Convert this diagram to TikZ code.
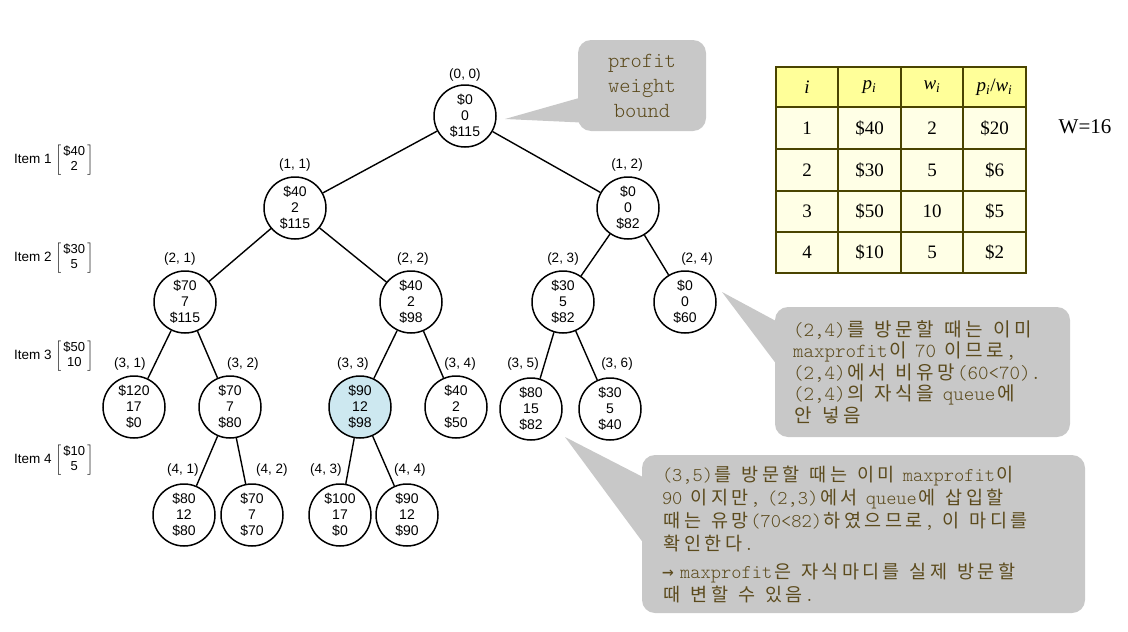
\documentclass[tikz,border=0pt]{standalone}
\usepackage{fontspec}
\usepackage{xcolor}
\setmainfont{Liberation Serif}
\setsansfont{Liberation Sans}
\setmonofont{Latin Modern Mono Light}
\newfontfamily\krfont[Scale=0.95]{Noto Sans CJK KR}
\newfontfamily\arrowfont{DejaVu Sans Mono}
% each Hangul syllable takes two mono cells
\makeatletter
\def\K#1{\K@loop#1\relax}
\def\K@loop#1{\ifx\relax#1\else\makebox[1.05em]{\krfont #1}\expandafter\K@loop\fi}
\makeatother
\usetikzlibrary{positioning, calc}
\definecolor{calloutgray}{HTML}{C8C8C8}
\definecolor{calloutink}{HTML}{5B4A1C}
\definecolor{tableline}{HTML}{4A4400}
\definecolor{tabhead}{HTML}{FFFF99}
\definecolor{tabbody}{HTML}{FFFFE6}
\definecolor{visitblue}{HTML}{CDE8F0}
\tikzset{
  state/.style={
    circle, draw=black, fill=white, line width=1.5pt,
    minimum size=62pt, inner sep=0pt,
    align=center, font=\sffamily\fontsize{14}{16}\selectfont
  },
  visited/.style={state, fill=visitblue},
  idx/.style={font=\sffamily\fontsize{13.5}{16}\selectfont, inner sep=1pt},
  edge/.style={line width=1.4pt, draw=black},
  item/.style={anchor=west, inner sep=0pt, font=\sffamily\fontsize{13.5}{16}\selectfont},
  callout/.style={
    rectangle, rounded corners=13pt, fill=calloutgray, text=calloutink,
    align=left, font=\ttfamily\fontsize{20}{21.5}\selectfont
  },
  pointer/.style={fill=calloutgray},
  cell/.style={font=\fontsize{19}{22}\selectfont, text=black, inner sep=0pt},
  tabline/.style={line width=2.6pt, draw=tableline, line cap=rect},
}

\begin{document}
\begin{tikzpicture}[x=1pt, y=-1pt]
  \useasboundingbox (0,0) rectangle (1128,632);

  % search tree
  \node[state]   (n00) at (465,116) {\$0\\0\\\$115};
  \node[state]   (n11) at (295,208) {\$40\\2\\\$115};
  \node[state]   (n12) at (628,208) {\$0\\0\\\$82};
  \node[state]   (n21) at (185,302) {\$70\\7\\\$115};
  \node[state]   (n22) at (411,302) {\$40\\2\\\$98};
  \node[state]   (n23) at (563,302) {\$30\\5\\\$82};
  \node[state]   (n24) at (685,302) {\$0\\0\\\$60};
  \node[state]   (n31) at (134,407) {\$120\\17\\\$0};
  \node[state]   (n32) at (230,407) {\$70\\7\\\$80};
  \node[visited] (n33) at (360,407) {\$90\\12\\\$98};
  \node[state]   (n34) at (456,407) {\$40\\2\\\$50};
  \node[state]   (n35) at (531,409) {\$80\\15\\\$82};
  \node[state]   (n36) at (610,409) {\$30\\5\\\$40};
  \node[state]   (n41) at (184,515) {\$80\\12\\\$80};
  \node[state]   (n42) at (252,515) {\$70\\7\\\$70};
  \node[state]   (n43) at (340,515) {\$100\\17\\\$0};
  \node[state]   (n44) at (407,515) {\$90\\12\\\$90};

  \foreach \from/\to in {n00/n11, n00/n12, n11/n21, n11/n22, n12/n23, n12/n24,
                         n21/n31, n21/n32, n22/n33, n22/n34, n23/n35, n23/n36,
                         n32/n41, n32/n42, n33/n43, n33/n44}
    \draw[edge] (\from) -- (\to);

  \foreach \i/\j/\x/\y in {0/0/465/75, 1/1/295/165, 1/2/627/165,
                           2/1/180/259, 2/2/413/259, 2/3/563/259, 2/4/697/259,
                           3/1/130/364, 3/2/243/364, 3/3/353/364, 3/4/460/364,
                           3/5/523/364, 3/6/617/364,
                           4/1/183/470, 4/2/272/470, 4/3/326/470, 4/4/410/470}
    \node[idx] (l\i\j) at (\x,\y) {(\i, \j)};

  % item column
  \foreach \k/\p/\w/\y in {1/40/2/160, 2/30/5/258, 3/50/10/356, 4/10/5/460}
    \node[item] (item\k) at (14,\y)
      {Item \k\ $\left[\mbox{\fontsize{13}{15}\selectfont\begin{tabular}{@{\,}c@{\,}}\$\p\\\w\end{tabular}}\right]$};

  % table
  \fill[tabbody] (776,107) rectangle (1026,273);
  \fill[tabhead] (776,67) rectangle (1026,107);
  \foreach \x in {776,838,901,963,1026}
    \draw[tabline] (\x,67) -- (\x,273);
  \foreach \y in {67,107,149,191,232,273}
    \draw[tabline] (776,\y) -- (1026,\y);
  \node[cell] (h1) at (807,87) {\textit{i}};
  \node[cell] (h2) at (869.5,87) {\textit{p}\textsubscript{\textit{i}}};
  \node[cell] (h3) at (932,87) {\textit{w}\textsubscript{\textit{i}}};
  \node[cell] (h4) at (994.5,87)
    {\textit{p}\textsubscript{\textit{i}}/\textit{w}\textsubscript{\textit{i}}};
  \foreach \r/\p/\w/\q/\y in {1/40/2/20/128, 2/30/5/6/170, 3/50/10/5/211.5, 4/10/5/2/252.5} {
    \node[cell] (r\r c1) at (807,\y) {\r};
    \node[cell] (r\r c2) at (869.5,\y) {\$\p};
    \node[cell] (r\r c3) at (932,\y) {\w};
    \node[cell] (r\r c4) at (994.5,\y) {\$\q};
  }
  \node[font=\fontsize{21}{24}\selectfont] (cap) at (1085,127) {W=16};

  % callouts
  \node[callout, align=center, minimum width=128pt, minimum height=91pt,
        font=\ttfamily\fontsize{21.5}{25}\selectfont] (c1) at (642,85.5)
    {profit\\weight\\bound};
  \coordinate (tip1) at (505,119);
  \fill[pointer] (tip1) -- ([xshift=3pt,yshift=-12pt]c1.west)
                        -- ([xshift=3pt,yshift=-37pt]c1.west) -- cycle;

  \node[callout, text width=259pt, inner xsep=18pt, minimum height=130pt] (c2) at (922.5,372)
    {(2,4)\K{를} \K{방문할} \K{때는} \K{이미}\\
     maxprofit\K{이} 70 \K{이므로},\\
     (2,4)\K{에서} \K{비유망}(60<70).\\
     (2,4)\K{의} \K{자식을} queue\K{에}\\
     \K{안} \K{넣음}};
  \coordinate (tip2) at (722,292);
  \fill[pointer] (tip2) -- ([xshift=3pt,yshift=50pt]c2.west)
                        -- ([xshift=3pt,yshift=6pt]c2.west) -- cycle;

  \node[callout, text width=403pt, inner xsep=20pt, minimum height=158pt,
        font=\ttfamily\fontsize{19.5}{23}\selectfont] (c3) at (863.5,534)
    {(3,5)\K{를} \K{방문할} \K{때는} \K{이미} maxprofit\K{이}\\
     90 \K{이지만}, (2,3)\K{에서} queue\K{에} \K{삽입할}\\
     \K{때는} \K{유망}(70<82)\K{하였으므로}, \K{이} \K{마디를}\\
     \K{확인한다}.\\[5pt]
     {\arrowfont →} maxprofit\K{은} \K{자식마디를} \K{실제} \K{방문할}\\
     \K{때} \K{변할} \K{수} \K{있음}.};
  \coordinate (tip3) at (565,437);
  \fill[pointer] (tip3) -- ([xshift=3pt,yshift=56pt]c3.west)
                        -- ([xshift=3pt,yshift=-11pt]c3.west) -- cycle;
\end{tikzpicture}
\end{document}
